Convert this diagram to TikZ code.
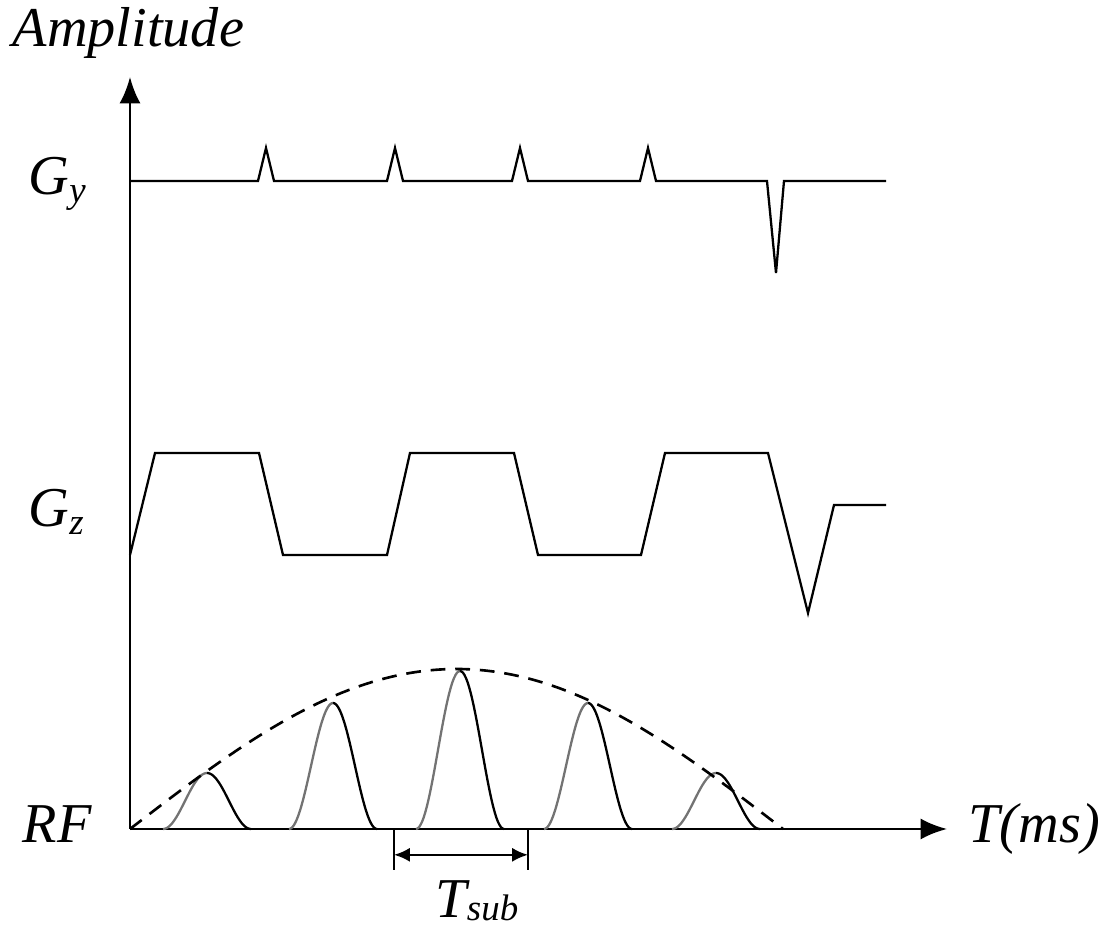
\documentclass[tikz,border=0pt]{standalone}
\usepackage{fontspec}
\setmainfont{Liberation Serif}
\usetikzlibrary{arrows.meta,calc}
\tikzset{
  lbl/.style={font=\fontsize{16}{19}\selectfont\itshape, inner sep=0pt, anchor=base west},
  axis/.style={line width=0.8pt, -{Latex[length=7.5pt,width=6pt]}},
  sig/.style={line width=0.65pt, line join=miter},
}
\newcommand{\sbs}[2][-0.3ex]{\raisebox{#1}{\fontsize{10.5}{12}\selectfont #2}}
\begin{document}
\begin{tikzpicture}[x=0.01cm, y=-0.01cm]
    \useasboundingbox (0,0) rectangle (1105,931);

    % 坐标轴
    \coordinate (O) at (130,829);
    \coordinate (ytop) at (130,77);
    \coordinate (xend) at (947,829);
    \draw[axis] (O) -- (ytop);
    \draw[axis] (O) -- (xend);

    % 标签
    \node[lbl] (amp) at (12,47) {Amplitude};
    \node[lbl] (gy) at (28,195) {G\sbs{y}};
    \node[lbl] (gz) at (28,527) {G\sbs{z}};
    \node[lbl] (rf) at (22,843) {RF};
    \node[lbl] (tms) at (968,843) {T(ms)};

    % Gy
    \draw[sig] (130,181) -- (258,181) -- (266,148) -- (274,181) -- (387,181)
        -- (395,148) -- (403,181) -- (512,181) -- (520,148) -- (528,181)
        -- (640,181) -- (648,148) -- (656,181) -- (767,181) -- (776,273)
        -- (784,181) -- (886,181);

    % Gz
    \draw[sig] (130,555) -- (155,453) -- (259,453) -- (283,555) -- (387,555)
        -- (410,453) -- (514,453) -- (538,555) -- (641,555) -- (665,453)
        -- (768,453) -- (808,613) -- (834,505) -- (886,505);

    % RF 子脉冲
    \foreach \c/\h in {207/56, 333/126, 460/158, 588/126, 716/56} {
        \draw[sig, black!55] plot[domain=-44:0, samples=30, smooth]
            ({\c+\x}, {829-\h*0.5*(1+cos(4.0909*\x))});
        \draw[sig] plot[domain=0:44, samples=30, smooth]
            ({\c+\x}, {829-\h*0.5*(1+cos(4.0909*\x))});
    }

    % 包络
    \draw[line width=0.75pt, dash pattern=on 4.2pt off 2.8pt]
        plot[domain=0:653, samples=60, smooth] ({130+\x}, {829-160*sin(0.27565*\x)});

    % Tsub
    \coordinate (t1) at (394,829);
    \coordinate (t1b) at (394,870);
    \coordinate (t2) at (528,829);
    \coordinate (t2b) at (528,870);
    \draw[line width=0.7pt] (t1) -- (t1b);
    \draw[line width=0.7pt] (t2) -- (t2b);
    \draw[line width=0.7pt, {Latex[length=4.5pt,width=4pt]}-{Latex[length=4.5pt,width=4pt]}]
        ($(t1)!0.63!(t1b)$) -- ($(t2)!0.63!(t2b)$);
    \node[lbl] (tsub) at (435,918) {T\sbs[-0.1ex]{sub}};
\end{tikzpicture}
\end{document}
